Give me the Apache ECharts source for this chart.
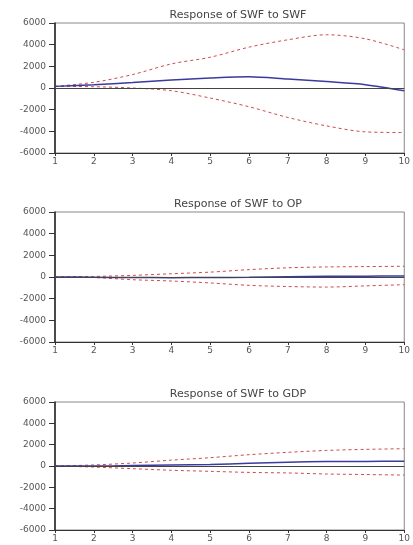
<!DOCTYPE html>
<html><head><meta charset="utf-8">
<script src="https://cdn.jsdelivr.net/npm/echarts@6/dist/echarts.min.js"></script>
<style>html,body{margin:0;padding:0;background:#fff}#c{width:413px;height:545px}</style>
</head><body><div id="c"></div>
<script>
var periods = [1,2,3,4,5,6,7,8,9,10];
var titles = ['Response of SWF to SWF','Response of SWF to OP','Response of SWF to GDP'];
var yTicks = [-6000,-4000,-2000,0,2000,4000,6000];
// Response of SWF to SWF
var swfResp  = [150, 300, 500, 740, 930, 1050, 830, 590, 310, -250];
var swfUpper = [150, 525, 1240, 2225, 2840, 3770, 4450, 4915, 4540, 3524];
var swfLower = [150, 120, 0, -250, -930, -1730, -2720, -3500, -4050, -4110];
// Response of SWF to OP
var opResp  = [0, -20, -50, -60, -50, -30, 20, 60, 80, 100];
var opUpper = [0, 50, 150, 300, 450, 680, 850, 930, 960, 990];
var opLower = [0, -50, -250, -370, -550, -770, -880, -930, -820, -710];
// Response of SWF to GDP
var gdpResp  = [0, 0, 50, 100, 150, 250, 350, 420, 430, 440];
var gdpUpper = [0, 100, 280, 550, 780, 1060, 1280, 1460, 1560, 1620];
var gdpLower = [0, -100, -250, -400, -500, -600, -650, -750, -800, -850];

var groups = [[swfResp, swfUpper, swfLower],[opResp, opUpper, opLower],[gdpResp, gdpUpper, gdpLower]];
var tops = [23, 212, 402];
var heights = [130, 130, 128];
var font = 'DejaVu Sans';

var chart = echarts.init(document.getElementById('c'));
var grid=[], xAxis=[], yAxis=[], series=[], title=[];
function pts(arr){return periods.map(function(p,k){return [p, arr[k]];});}
for (var i=0;i<3;i++){
  title.push({text:titles[i], left:233, textAlign:'center', top:tops[i]-18,
    textStyle:{fontSize:11, fontWeight:'normal', color:'#444', fontFamily:font}});
  grid.push({left:55, right:3, top:tops[i], height:heights[i], show:true, borderColor:'#888', borderWidth:1, backgroundColor:'#fff'});
  xAxis.push({type:'value', gridIndex:i, min:1, max:10, interval:1,
    axisLine:{show:true, onZero:false, lineStyle:{color:'#333', width:1}},
    axisTick:{show:true, length:3, lineStyle:{color:'#333'}},
    axisLabel:{fontSize:9, color:'#555', fontFamily:font, margin:4, showMaxLabel:true},
    splitLine:{show:false}});
  yAxis.push({type:'value', gridIndex:i, min:yTicks[0], max:yTicks[yTicks.length-1], interval:2000,
    axisLine:{show:true, lineStyle:{color:'#222', width:1.5}},
    axisTick:{show:true, length:6, lineStyle:{color:'#333'}},
    axisLabel:{fontSize:9, color:'#555', fontFamily:font, margin:9, formatter:function(v){return String(v);}},
    splitLine:{show:false}});
  var g = groups[i];
  series.push({type:'line', xAxisIndex:i, yAxisIndex:i, data:pts(g[1]), symbol:'none', smooth:0.3,
    lineStyle:{color:'#d04a4a', width:1, type:[3,3]}, z:3});
  series.push({type:'line', xAxisIndex:i, yAxisIndex:i, data:pts(g[2]), symbol:'none', smooth:0.3,
    lineStyle:{color:'#d04a4a', width:1, type:[3,3]}, z:3});
  series.push({type:'line', xAxisIndex:i, yAxisIndex:i, data:pts(g[0]), symbol:'none', smooth:0.3,
    lineStyle:{color:'#3a3aa0', width:1.5}, z:4,
    markLine:{silent:true, symbol:'none', label:{show:false}, lineStyle:{color:'#444', width:1, type:'solid'},
      data:[{yAxis:0}]}});
}
chart.setOption({animation:false, backgroundColor:'#fff', title:title, grid:grid, xAxis:xAxis, yAxis:yAxis, series:series});
</script></body></html>
